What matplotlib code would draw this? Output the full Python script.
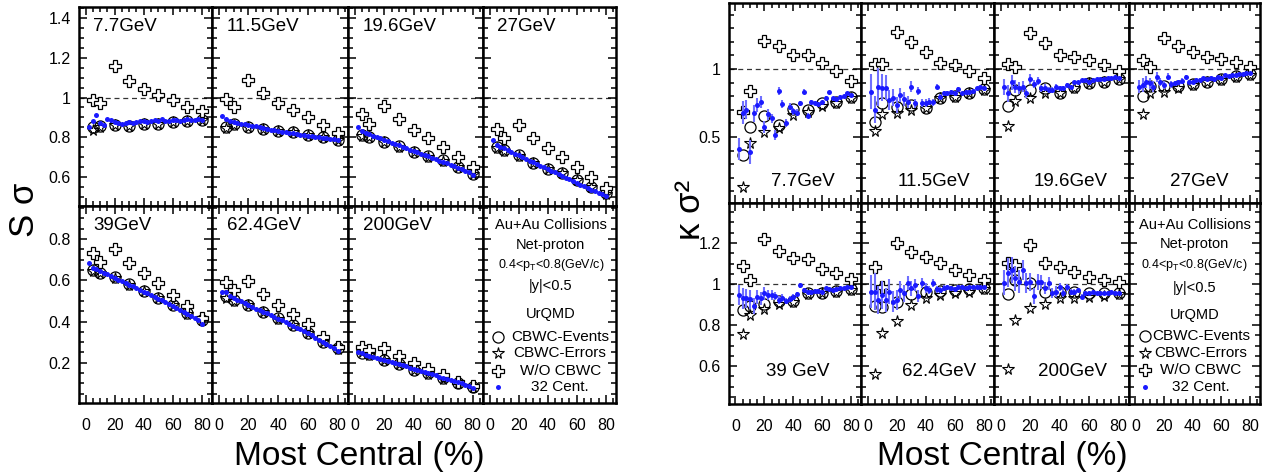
import numpy as np
import matplotlib
matplotlib.use('Agg')
import matplotlib.pyplot as plt
from matplotlib.ticker import MultipleLocator, FuncFormatter

plt.rcParams['font.family'] = ['Liberation Sans', 'DejaVu Sans']
plt.rcParams['mathtext.fontset'] = 'custom'
plt.rcParams['mathtext.rm'] = 'Liberation Sans'
plt.rcParams['mathtext.it'] = 'Liberation Sans:italic'

# centrality positions
cent9 = [5, 10, 20, 30, 40, 50, 60, 70, 80]
cent32 = [2.5, 5, 7.5, 10, 12.5, 15, 17.5, 20, 22.5, 25, 27.5, 30, 32.5, 35, 37.5, 40,
          42.5, 45, 47.5, 50, 52.5, 55, 57.5, 60, 62.5, 65, 67.5, 70, 72.5, 75, 77.5, 80]

energies_top = ['7.7GeV', '11.5GeV', '19.6GeV', '27GeV']
energies_bot = ['39GeV', '62.4GeV', '200GeV']
energies_kbot = ['39 GeV', '62.4GeV', '200GeV']

# ---- S sigma ----
ss_ev_77 = [0.85, 0.855, 0.86, 0.855, 0.868, 0.868, 0.877, 0.88, 0.885]
ss_er_77 = [0.835, 0.85, 0.86, 0.855, 0.866, 0.866, 0.876, 0.88, 0.885]
ss_wo_77 = [0.989, 0.972, 1.16, 1.085, 1.043, 1.015, 0.99, 0.955, 0.93]
ss_32_77 = [0.85, 0.88, 0.91, 0.87, 0.86, 0.89, 0.885, 0.875, 0.87, 0.865, 0.87, 0.875, 0.87, 0.875, 0.88, 0.88,
            0.875, 0.88, 0.885, 0.88, 0.89, 0.88, 0.88, 0.885, 0.885, 0.88, 0.885, 0.89, 0.885, 0.885, 0.89, 0.885]

ss_ev_115 = [0.852, 0.865, 0.852, 0.843, 0.832, 0.827, 0.81, 0.80, 0.785]
ss_er_115 = [0.845, 0.86, 0.85, 0.842, 0.83, 0.825, 0.81, 0.80, 0.785]
ss_wo_115 = [0.993, 0.955, 1.09, 1.022, 0.973, 0.935, 0.90, 0.86, 0.823]
ss_32_115 = [0.905, 0.89, 0.88, 0.878, 0.872, 0.868, 0.865, 0.862, 0.858, 0.855, 0.85, 0.845, 0.842, 0.838, 0.835, 0.83,
             0.828, 0.825, 0.822, 0.82, 0.816, 0.812, 0.81, 0.808, 0.805, 0.802, 0.80, 0.797, 0.795, 0.792, 0.79, 0.786]

ss_ev_196 = [0.81, 0.802, 0.777, 0.755, 0.727, 0.705, 0.685, 0.652, 0.618]
ss_er_196 = [0.805, 0.80, 0.775, 0.753, 0.725, 0.703, 0.683, 0.65, 0.615]
ss_wo_196 = [0.918, 0.868, 0.957, 0.89, 0.835, 0.797, 0.752, 0.702, 0.652]
ss_32_196 = [0.852, 0.83, 0.822, 0.815, 0.808, 0.80, 0.795, 0.785, 0.78, 0.773, 0.765, 0.76, 0.752, 0.745, 0.738, 0.73,
             0.725, 0.718, 0.71, 0.705, 0.698, 0.69, 0.683, 0.677, 0.67, 0.662, 0.655, 0.648, 0.64, 0.632, 0.625, 0.613]

ss_ev_27 = [0.752, 0.735, 0.71, 0.673, 0.643, 0.622, 0.588, 0.552, 0.518]
ss_er_27 = [0.745, 0.733, 0.708, 0.672, 0.64, 0.62, 0.586, 0.55, 0.515]
ss_wo_27 = [0.843, 0.798, 0.86, 0.798, 0.747, 0.702, 0.652, 0.602, 0.543]
ss_32_27 = [0.785, 0.76, 0.752, 0.745, 0.735, 0.725, 0.718, 0.71, 0.70, 0.69, 0.683, 0.675, 0.665, 0.657, 0.65, 0.64,
            0.632, 0.625, 0.615, 0.605, 0.598, 0.59, 0.58, 0.572, 0.563, 0.555, 0.545, 0.537, 0.53, 0.522, 0.515, 0.505]

ss_ev_39 = [0.65, 0.637, 0.614, 0.58, 0.55, 0.516, 0.48, 0.44, 0.408]
ss_er_39 = [0.645, 0.635, 0.612, 0.578, 0.548, 0.514, 0.478, 0.438, 0.405]
ss_wo_39 = [0.734, 0.69, 0.75, 0.685, 0.637, 0.585, 0.529, 0.476, 0.416]
ss_32_39 = [0.685, 0.66, 0.655, 0.645, 0.635, 0.628, 0.62, 0.61, 0.603, 0.595, 0.585, 0.578, 0.57, 0.562, 0.553, 0.545,
            0.537, 0.528, 0.52, 0.51, 0.502, 0.493, 0.484, 0.475, 0.466, 0.457, 0.448, 0.438, 0.428, 0.418, 0.405, 0.39]

ss_ev_624 = [0.524, 0.505, 0.48, 0.448, 0.416, 0.384, 0.346, 0.303, 0.27]
ss_er_624 = [0.515, 0.50, 0.478, 0.446, 0.414, 0.382, 0.344, 0.30, 0.268]
ss_wo_624 = [0.593, 0.553, 0.597, 0.534, 0.48, 0.437, 0.388, 0.327, 0.278]
ss_32_624 = [0.545, 0.545, 0.525, 0.512, 0.505, 0.498, 0.49, 0.48, 0.472, 0.463, 0.455, 0.447, 0.44, 0.43, 0.422, 0.413,
             0.405, 0.397, 0.388, 0.38, 0.37, 0.362, 0.352, 0.342, 0.333, 0.322, 0.312, 0.302, 0.292, 0.282, 0.27, 0.258]

ss_ev_200 = [0.246, 0.243, 0.214, 0.195, 0.166, 0.15, 0.125, 0.101, 0.082]
ss_er_200 = [0.25, 0.24, 0.212, 0.193, 0.165, 0.148, 0.123, 0.10, 0.082]
ss_wo_200 = [0.278, 0.262, 0.27, 0.235, 0.198, 0.169, 0.141, 0.109, 0.088]
ss_32_200 = [0.25, 0.245, 0.238, 0.232, 0.228, 0.222, 0.218, 0.214, 0.208, 0.202, 0.198, 0.192, 0.187, 0.182, 0.176, 0.171,
             0.166, 0.16, 0.155, 0.15, 0.144, 0.139, 0.133, 0.128, 0.122, 0.117, 0.111, 0.106, 0.10, 0.094, 0.088, 0.08]

# ---- kappa sigma^2 ----
kk_ev_77 = [0.368, 0.571, 0.657, 0.588, 0.703, 0.699, 0.748, 0.76, 0.792]
kk_er_77 = [0.13, 0.453, 0.535, 0.564, 0.662, 0.686, 0.728, 0.748, 0.784]
kk_wo_77 = [0.686, 0.84, 1.208, 1.171, 1.103, 1.103, 1.042, 0.985, 0.914]
kk_32_77 = [0.412, 0.68, 0.70, 0.39, 0.674, 0.735, 0.755, 0.576, 0.667, 0.637, 0.515, 0.838, 0.74, 0.60, 0.723, 0.69,
            0.68, 0.748, 0.833, 0.657, 0.755, 0.748, 0.74, 0.755, 0.789, 0.828, 0.784, 0.779, 0.797, 0.804, 0.821, 0.809]
kk_e32_77 = [0.08, 0.085, 0.07, 0.085, 0.06, 0.05, 0.045, 0.045, 0.04, 0.035, 0.035, 0.03, 0.03, 0.03, 0.025, 0.025,
             0.025, 0.02, 0.02, 0.02, 0.015, 0.015, 0.015, 0.012, 0.012, 0.012, 0.01, 0.01, 0.01, 0.008, 0.008, 0.008]

kk_ev_115 = [0.613, 0.748, 0.723, 0.735, 0.716, 0.789, 0.804, 0.821, 0.85]
kk_er_115 = [0.544, 0.667, 0.68, 0.699, 0.711, 0.784, 0.797, 0.821, 0.846]
kk_wo_115 = [1.035, 1.035, 1.274, 1.20, 1.127, 1.042, 1.03, 0.985, 0.936]
kk_32_115 = [0.833, 0.70, 0.87, 0.863, 0.863, 0.772, 0.79, 0.735, 0.809, 0.779, 0.76, 0.87, 0.748, 0.838, 0.748, 0.748,
             0.76, 0.755, 0.87, 0.797, 0.82, 0.82, 0.833, 0.82, 0.853, 0.82, 0.833, 0.833, 0.84, 0.858, 0.87, 0.858]
kk_e32_115 = [0.13, 0.10, 0.14, 0.10, 0.09, 0.07, 0.06, 0.06, 0.05, 0.05, 0.045, 0.04, 0.035, 0.03, 0.03, 0.03,
              0.025, 0.025, 0.02, 0.02, 0.02, 0.015, 0.015, 0.015, 0.012, 0.012, 0.01, 0.01, 0.01, 0.01, 0.008, 0.008]

kk_ev_196 = [0.728, 0.846, 0.846, 0.858, 0.821, 0.87, 0.895, 0.907, 0.926]
kk_er_196 = [0.583, 0.765, 0.789, 0.821, 0.821, 0.863, 0.895, 0.907, 0.926]
kk_wo_196 = [1.035, 1.017, 1.262, 1.189, 1.103, 1.086, 1.066, 1.029, 0.985]
kk_32_196 = [0.87, 0.821, 0.902, 0.87, 0.858, 0.87, 0.821, 0.926, 0.887, 0.912, 0.858, 0.863, 0.846, 0.846, 0.87, 0.858,
             0.858, 0.882, 0.87, 0.902, 0.902, 0.919, 0.919, 0.902, 0.919, 0.926, 0.926, 0.926, 0.931, 0.936, 0.943, 0.936]
kk_e32_196 = [0.06, 0.06, 0.055, 0.05, 0.045, 0.04, 0.035, 0.035, 0.03, 0.03, 0.025, 0.025, 0.02, 0.02, 0.02, 0.015,
              0.015, 0.015, 0.012, 0.012, 0.012, 0.01, 0.01, 0.01, 0.01, 0.008, 0.008, 0.008, 0.008, 0.007, 0.007, 0.007]

kk_ev_27 = [0.804, 0.877, 0.877, 0.877, 0.887, 0.907, 0.924, 0.951, 0.961]
kk_er_27 = [0.667, 0.821, 0.828, 0.863, 0.882, 0.902, 0.919, 0.943, 0.956]
kk_wo_27 = [1.066, 1.017, 1.23, 1.171, 1.123, 1.09, 1.074, 1.049, 1.017]
kk_32_27 = [0.87, 0.882, 0.907, 0.895, 0.87, 0.943, 0.902, 0.882, 0.943, 0.887, 0.895, 0.902, 0.912, 0.943, 0.902, 0.902,
            0.919, 0.919, 0.931, 0.926, 0.936, 0.926, 0.943, 0.936, 0.956, 0.951, 0.956, 0.956, 0.961, 0.961, 0.968, 0.968]
kk_e32_27 = [0.05, 0.05, 0.045, 0.04, 0.04, 0.035, 0.03, 0.03, 0.025, 0.025, 0.02, 0.02, 0.02, 0.015, 0.015, 0.015,
             0.012, 0.012, 0.012, 0.01, 0.01, 0.01, 0.008, 0.008, 0.008, 0.008, 0.007, 0.007, 0.007, 0.006, 0.006, 0.006]

kk_ev_39 = [0.873, 0.893, 0.902, 0.919, 0.919, 0.958, 0.958, 0.967, 0.974]
kk_er_39 = [0.756, 0.849, 0.876, 0.902, 0.914, 0.951, 0.954, 0.963, 0.971]
kk_wo_39 = [1.088, 1.02, 1.218, 1.163, 1.125, 1.12, 1.073, 1.052, 1.023]
kk_32_39 = [0.946, 0.93, 0.93, 0.925, 0.893, 0.938, 0.93, 0.954, 0.946, 0.946, 0.941, 0.922, 0.93, 0.919, 0.925, 0.938,
            0.951, 0.995, 0.971, 0.963, 0.963, 0.967, 0.967, 0.963, 0.979, 0.974, 0.971, 0.974, 0.979, 0.979, 0.984, 0.984]
kk_e32_39 = [0.05, 0.05, 0.045, 0.045, 0.04, 0.035, 0.03, 0.03, 0.025, 0.025, 0.02, 0.02, 0.02, 0.015, 0.015, 0.015,
             0.012, 0.012, 0.01, 0.01, 0.01, 0.008, 0.008, 0.008, 0.007, 0.007, 0.007, 0.006, 0.006, 0.006, 0.005, 0.005]

kk_ev_624 = [0.893, 0.886, 0.914, 0.951, 0.963, 0.967, 0.971, 0.974, 0.979]
kk_er_624 = [0.561, 0.759, 0.821, 0.898, 0.93, 0.946, 0.954, 0.963, 0.974]
kk_wo_624 = [1.081, 0.984, 1.198, 1.158, 1.133, 1.104, 1.068, 1.044, 1.02]
kk_32_624 = [0.963, 0.963, 0.922, 0.946, 0.922, 0.963, 0.914, 0.922, 0.971, 0.954, 1.006, 0.979, 0.995, 0.941, 1.006, 0.979,
             0.971, 1.006, 0.974, 0.971, 0.979, 0.984, 0.979, 0.974, 0.984, 0.984, 0.979, 0.984, 0.984, 0.987, 0.984, 0.984]
kk_e32_624 = [0.08, 0.09, 0.07, 0.07, 0.06, 0.06, 0.05, 0.05, 0.045, 0.04, 0.035, 0.035, 0.03, 0.03, 0.025, 0.025,
              0.02, 0.02, 0.018, 0.015, 0.015, 0.012, 0.012, 0.01, 0.01, 0.01, 0.008, 0.008, 0.008, 0.007, 0.007, 0.007]

kk_ev_200 = [0.951, 1.02, 1.003, 0.959, 0.963, 0.959, 0.958, 0.954, 0.958]
kk_er_200 = [0.584, 0.824, 0.881, 0.902, 0.93, 0.93, 0.935, 0.941, 0.951]
kk_wo_200 = [1.101, 1.093, 1.19, 1.104, 1.081, 1.06, 1.036, 1.02, 1.011]
kk_32_200 = [1.006, 1.055, 1.068, 1.028, 1.011, 1.068, 1.006, 1.011, 0.941, 1.011, 1.011, 0.979, 1.003, 0.958, 0.963, 0.987,
             0.958, 0.984, 0.963, 0.963, 0.971, 0.938, 0.954, 0.958, 0.963, 0.954, 0.958, 0.954, 0.958, 0.963, 0.958, 0.958]
kk_e32_200 = [0.06, 0.07, 0.065, 0.06, 0.055, 0.05, 0.05, 0.045, 0.04, 0.04, 0.035, 0.03, 0.03, 0.025, 0.025, 0.02,
              0.02, 0.018, 0.015, 0.015, 0.012, 0.012, 0.01, 0.01, 0.01, 0.008, 0.008, 0.008, 0.007, 0.007, 0.007, 0.006]

ss_panels = [(ss_ev_77, ss_er_77, ss_wo_77, ss_32_77), (ss_ev_115, ss_er_115, ss_wo_115, ss_32_115),
             (ss_ev_196, ss_er_196, ss_wo_196, ss_32_196), (ss_ev_27, ss_er_27, ss_wo_27, ss_32_27),
             (ss_ev_39, ss_er_39, ss_wo_39, ss_32_39), (ss_ev_624, ss_er_624, ss_wo_624, ss_32_624),
             (ss_ev_200, ss_er_200, ss_wo_200, ss_32_200)]
kk_panels = [(kk_ev_77, kk_er_77, kk_wo_77, kk_32_77, kk_e32_77), (kk_ev_115, kk_er_115, kk_wo_115, kk_32_115, kk_e32_115),
             (kk_ev_196, kk_er_196, kk_wo_196, kk_32_196, kk_e32_196), (kk_ev_27, kk_er_27, kk_wo_27, kk_32_27, kk_e32_27),
             (kk_ev_39, kk_er_39, kk_wo_39, kk_32_39, kk_e32_39), (kk_ev_624, kk_er_624, kk_wo_624, kk_32_624, kk_e32_624),
             (kk_ev_200, kk_er_200, kk_wo_200, kk_32_200, kk_e32_200)]

W, H = 1273, 475
fig = plt.figure(figsize=(W / 100, H / 100), dpi=100)
BLUE = '#1a1aff'

# marker styles shared by panels and legend
M_EV = dict(marker='o', ms=8, mfc='none', mec='black', mew=0.9)
M_ER = dict(marker='*', ms=8.5, mfc='none', mec='black', mew=0.8)
M_WO = dict(marker='P', ms=8.5, mfc='white', mec='black', mew=0.9)
M_32 = dict(marker='o', ms=3.6, color=BLUE, mec='none')


def add_panel(x0, x1, y0, y1):
    return fig.add_axes([x0 / W, 1 - y1 / H, (x1 - x0) / W, (y1 - y0) / H])


def style(ax, ylim, ymaj, ymin, ylab, xlab):
    ax.set_xlim(-4.5, 87)
    ax.set_ylim(*ylim)
    ax.xaxis.set_major_locator(MultipleLocator(20))
    ax.xaxis.set_minor_locator(MultipleLocator(5))
    ax.yaxis.set_major_locator(MultipleLocator(ymaj))
    ax.yaxis.set_minor_locator(MultipleLocator(ymin))
    ax.yaxis.set_major_formatter(FuncFormatter(lambda v, p: '{:g}'.format(round(v, 3))))
    ax.tick_params(which='both', direction='in', top=True, right=True, labelsize=11.5, width=1.1)
    ax.tick_params(which='major', length=6)
    ax.tick_params(which='minor', length=3.5)
    ax.tick_params(axis='x', pad=11)
    ax.tick_params(axis='y', pad=6)
    ax.tick_params(labelleft=ylab, labelbottom=xlab)
    for s in ax.spines.values():
        s.set_linewidth(1.8)


def draw_points(ax, ev, er, wo, c32, e32=None):
    ax.plot(cent9, ev, ls='none', zorder=3, **M_EV)
    ax.plot(cent9, er, ls='none', zorder=3, **M_ER)
    ax.plot(cent9, wo, ls='none', zorder=3, **M_WO)
    if e32 is not None:
        ax.errorbar(cent32, c32, yerr=e32, fmt='none', ecolor='#6f6fff', elinewidth=1.5, zorder=4)
    ax.plot(cent32, c32, ls='none', zorder=5, **M_32)


def legend_box(ax, xh, xm, xt, ys):
    hdr = ['Au+Au Collisions', 'Net-proton', r'0.4<p$_\mathrm{T}$<0.8(GeV/c)', '|y|<0.5', 'UrQMD']
    sizes = [10.5, 10.5, 9, 10.5, 10.5]
    for t, y, s in zip(hdr, ys[:5], sizes):
        ax.text(xh, y, t, transform=ax.transAxes, ha='center', va='center', fontsize=s)
    names = ['CBWC-Events', 'CBWC-Errors', 'W/O CBWC', '32 Cent.']
    for nm, m, y in zip(names, [M_EV, M_ER, M_WO, M_32], ys[5:]):
        ax.plot([xm], [y], transform=ax.transAxes, ls='none', clip_on=False, **m)
        ax.text(xt, y, nm, transform=ax.transAxes, ha='center', va='center', fontsize=11)


# ---------------- left figure: S sigma ----------------
lx = [79, 212, 348, 483, 616]
ly_top, ly_mid, ly_bot = 7, 206, 403
for i in range(4):
    ax = add_panel(lx[i], lx[i + 1], ly_top, ly_mid)
    style(ax, (0.455, 1.455), 0.2, 0.05, i == 0, False)
    ax.axhline(1, color='#333333', ls=(0, (4, 3)), lw=0.9, zorder=1)
    draw_points(ax, *ss_panels[i])
    ax.text(0.105, 0.90, energies_top[i], transform=ax.transAxes, fontsize=13.5, va='center')
for i in range(4):
    ax = add_panel(lx[i], lx[i + 1], ly_mid, ly_bot)
    style(ax, (0.005, 0.96), 0.2, 0.05, i == 0, True)
    if i < 3:
        draw_points(ax, *ss_panels[4 + i])
        ax.text(0.11, 0.90, energies_bot[i], transform=ax.transAxes, fontsize=13.5, va='center')
    else:
        legend_box(ax, 0.51, 0.115, 0.58, [0.904, 0.80, 0.70, 0.594, 0.452, 0.335, 0.254, 0.162, 0.081])

fig.text(25 / W, 1 - 210 / H, 'S σ', rotation=90, fontsize=25, ha='center', va='center')
fig.text(359 / W, 1 - 457 / H, 'Most Central (%)', fontsize=24, ha='center', va='center')

# ---------------- right figure: kappa sigma^2 ----------------
rx = [729, 861, 994, 1129, 1260]
ry_top, ry_mid, ry_bot = 3, 203, 404
kx_top = [0.56, 0.55, 0.57, 0.54]
kx_bot = [0.52, 0.59, 0.58]
for i in range(4):
    ax = add_panel(rx[i], rx[i + 1], ry_top, ry_mid)
    style(ax, (0.015, 1.485), 0.5, 0.1, i == 0, False)
    ax.axhline(1, color='#333333', ls=(0, (4, 3)), lw=0.9, zorder=1)
    draw_points(ax, *kk_panels[i])
    ax.text(kx_top[i], 0.105, energies_top[i], transform=ax.transAxes, fontsize=13.5, ha='center', va='center')
for i in range(4):
    ax = add_panel(rx[i], rx[i + 1], ry_mid, ry_bot)
    style(ax, (0.415, 1.395), 0.2, 0.05, i == 0, True)
    if i < 3:
        ax.axhline(1, color='#333333', ls=(0, (4, 3)), lw=0.9, zorder=1)
        draw_points(ax, *kk_panels[4 + i])
        ax.text(kx_bot[i], 0.16, energies_kbot[i], transform=ax.transAxes, fontsize=13.5, ha='center', va='center')
    else:
        legend_box(ax, 0.50, 0.12, 0.55, [0.89, 0.796, 0.69, 0.577, 0.443, 0.338, 0.254, 0.169, 0.085])

fig.text(690 / W, 1 - 210 / H, 'κ σ²', rotation=90, fontsize=25, ha='center', va='center')
fig.text(1002 / W, 1 - 457 / H, 'Most Central (%)', fontsize=24, ha='center', va='center')

fig.savefig('out.png', dpi=100, facecolor='white')
